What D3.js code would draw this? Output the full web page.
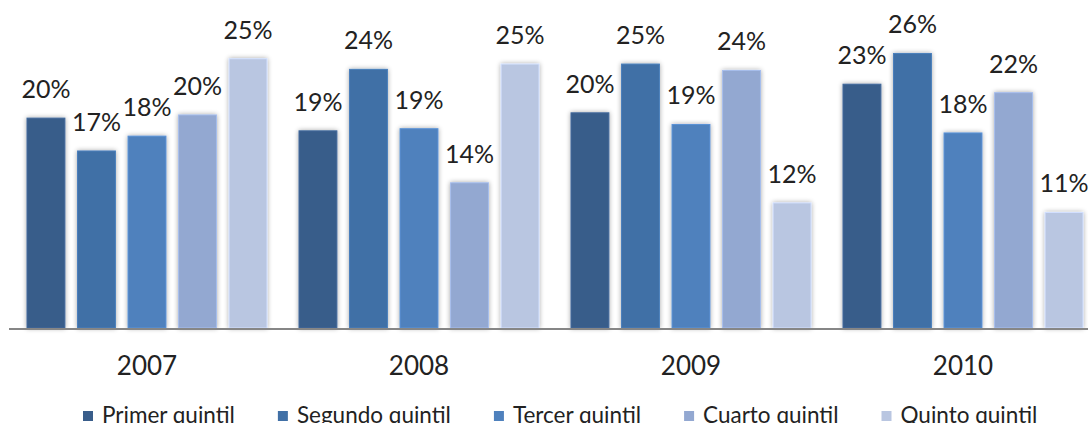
<!DOCTYPE html>
<html>
<head>
<meta charset="utf-8">
<script src="https://cdn.jsdelivr.net/npm/d3@7"></script>
<style>
  html, body { margin: 0; padding: 0; background: #fff; }
  svg { display: block; font-family: Lato, "Open Sans", sans-serif; }
</style>
</head>
<body>
<svg id="chart" width="1088" height="423"></svg>
<script>
  // Data.
  var years = ["2007", "2008", "2009", "2010"];
  var series = ["Primer quintil", "Segundo quintil", "Tercer quintil", "Cuarto quintil", "Quinto quintil"];
  var primer  = [19.8, 18.6, 20.3, 23.0];
  var segundo = [16.7, 24.4, 24.9, 25.9];
  var tercer  = [18.1, 18.8, 19.2, 18.4];
  var cuarto  = [20.1, 13.7, 24.3, 22.2];
  var quinto  = [25.4, 24.9, 11.8, 10.9];
  var colorsList = ["#395d8a", "#4170a6", "#4f81bd", "#93a8d1", "#b9c6e1"];

  var values = [primer, segundo, tercer, cuarto, quinto];

  var svg = d3.select("#chart");
  var width = 1088, height = 423;
  var baseY = 328;

  // Soft grey glow around bars (Excel shadow look).
  var defs = svg.append("defs");
  var filt = defs.append("filter").attr("id", "glow")
    .attr("x", "-30%").attr("y", "-10%").attr("width", "160%").attr("height", "120%");
  filt.append("feGaussianBlur").attr("in", "SourceAlpha").attr("stdDeviation", 2.5).attr("result", "b");
  filt.append("feComponentTransfer").attr("in", "b").attr("result", "s")
    .append("feFuncA").attr("type", "linear").attr("slope", 0.35);
  var merge = filt.append("feMerge");
  merge.append("feMergeNode").attr("in", "s");
  merge.append("feMergeNode").attr("in", "SourceGraphic");

  var x0 = d3.scaleBand().domain(years).range([11, 1099]);
  var x1 = d3.scaleBand().domain(series)
    .range([16, x0.bandwidth() - 16])
    .paddingInner(0.25).paddingOuter(0);
  var y = d3.scaleLinear().domain([0, 30]).range([baseY, baseY - 318]);
  var color = d3.scaleOrdinal().domain(series).range(colorsList);

  // Flatten rows for drawing.
  var rows = [];
  years.forEach(function (yr, i) {
    series.forEach(function (s, j) {
      rows.push({ year: yr, series: s, value: values[j][i] });
    });
  });

  var bars = svg.append("g").selectAll("g")
    .data(rows).enter().append("g")
    .attr("transform", function (d) { return "translate(" + (x0(d.year) + x1(d.series)) + ",0)"; });

  bars.append("rect")
    .attr("x", 0)
    .attr("y", function (d) { return y(d.value); })
    .attr("width", x1.bandwidth())
    .attr("height", function (d) { return baseY - y(d.value); })
    .attr("fill", function (d) { return color(d.series); })
    .attr("stroke", function (d) { return d3.color(color(d.series)).brighter(0.35); })
    .attr("stroke-width", 1)
    .attr("filter", "url(#glow)");

  bars.append("text")
    .attr("x", x1.bandwidth() / 2)
    .attr("y", function (d) { return y(d.value) - 20; })
    .attr("text-anchor", "middle")
    .attr("font-size", 25)
    .attr("fill", "#222")
    .text(function (d) { return Math.round(d.value) + "%"; });

  // Category axis (line + year labels).
  svg.append("line")
    .attr("x1", 9).attr("x2", width)
    .attr("y1", baseY + 1).attr("y2", baseY + 1)
    .attr("stroke", "#868686").attr("stroke-width", 2);

  var xAxis = d3.axisBottom(x0).tickSize(0).tickPadding(0);
  var axisG = svg.append("g").attr("transform", "translate(0," + baseY + ")").call(xAxis);
  axisG.select(".domain").remove();
  axisG.selectAll("text")
    .attr("y", 47).attr("dy", null)
    .attr("font-size", 26)
    .attr("font-family", "Lato, sans-serif")
    .attr("fill", "#222");

  // Legend, flowed left to right (bottom edge is cropped as in the source).
  var legend = svg.append("g");
  var lx = 83;
  series.forEach(function (s) {
    var item = legend.append("g");
    item.append("rect")
      .attr("x", lx).attr("y", 411)
      .attr("width", 10).attr("height", 10)
      .attr("fill", color(s));
    var t = item.append("text")
      .attr("x", lx + 19).attr("y", 423)
      .attr("font-size", 22.5)
      .attr("fill", "#222")
      .text(s);
    lx += 19 + t.node().getComputedTextLength() + 43;
  });
</script>
</body>
</html>
